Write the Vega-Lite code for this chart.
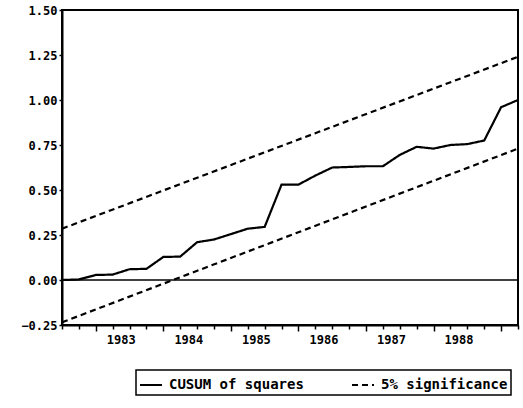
{
  "$schema": "https://vega.github.io/schema/vega-lite/v6.json",
  "autosize": {"type": "none"},
  "padding": {"left": 62, "top": 10, "right": 5, "bottom": 83},
  "width": 456,
  "height": 315,
  "background": "white",
  "config": {
    "view": {"stroke": "black", "strokeWidth": 2},
    "font": "DejaVu Sans Mono"
  },
  "layer": [
    {
      "data": {"values": [{"zero": 0}]},
      "mark": {"type": "rule", "color": "black", "strokeWidth": 1.5},
      "encoding": {
        "y": {"field": "zero", "type": "quantitative", "scale": {"domain": [-0.25, 1.5], "nice": false, "zero": false}}
      }
    },
    {
      "data": {"values": [
        {"t": 1982.5, "value": 0.0, "series": "CUSUM of squares", "line": "cusum"},
        {"t": 1982.75, "value": 0.003, "series": "CUSUM of squares", "line": "cusum"},
        {"t": 1983.0, "value": 0.028, "series": "CUSUM of squares", "line": "cusum"},
        {"t": 1983.25, "value": 0.03, "series": "CUSUM of squares", "line": "cusum"},
        {"t": 1983.5, "value": 0.06, "series": "CUSUM of squares", "line": "cusum"},
        {"t": 1983.75, "value": 0.062, "series": "CUSUM of squares", "line": "cusum"},
        {"t": 1984.0, "value": 0.128, "series": "CUSUM of squares", "line": "cusum"},
        {"t": 1984.25, "value": 0.13, "series": "CUSUM of squares", "line": "cusum"},
        {"t": 1984.5, "value": 0.21, "series": "CUSUM of squares", "line": "cusum"},
        {"t": 1984.75, "value": 0.225, "series": "CUSUM of squares", "line": "cusum"},
        {"t": 1985.0, "value": 0.255, "series": "CUSUM of squares", "line": "cusum"},
        {"t": 1985.25, "value": 0.285, "series": "CUSUM of squares", "line": "cusum"},
        {"t": 1985.5, "value": 0.295, "series": "CUSUM of squares", "line": "cusum"},
        {"t": 1985.75, "value": 0.53, "series": "CUSUM of squares", "line": "cusum"},
        {"t": 1986.0, "value": 0.53, "series": "CUSUM of squares", "line": "cusum"},
        {"t": 1986.25, "value": 0.58, "series": "CUSUM of squares", "line": "cusum"},
        {"t": 1986.5, "value": 0.625, "series": "CUSUM of squares", "line": "cusum"},
        {"t": 1986.75, "value": 0.628, "series": "CUSUM of squares", "line": "cusum"},
        {"t": 1987.0, "value": 0.632, "series": "CUSUM of squares", "line": "cusum"},
        {"t": 1987.25, "value": 0.632, "series": "CUSUM of squares", "line": "cusum"},
        {"t": 1987.5, "value": 0.695, "series": "CUSUM of squares", "line": "cusum"},
        {"t": 1987.75, "value": 0.74, "series": "CUSUM of squares", "line": "cusum"},
        {"t": 1988.0, "value": 0.73, "series": "CUSUM of squares", "line": "cusum"},
        {"t": 1988.25, "value": 0.75, "series": "CUSUM of squares", "line": "cusum"},
        {"t": 1988.5, "value": 0.755, "series": "CUSUM of squares", "line": "cusum"},
        {"t": 1988.75, "value": 0.775, "series": "CUSUM of squares", "line": "cusum"},
        {"t": 1989.0, "value": 0.96, "series": "CUSUM of squares", "line": "cusum"},
        {"t": 1989.25, "value": 1.0, "series": "CUSUM of squares", "line": "cusum"},
        {"t": 1982.5, "value": 0.285, "series": "5% significance", "line": "upper"},
        {"t": 1989.25, "value": 1.24, "series": "5% significance", "line": "upper"},
        {"t": 1982.5, "value": -0.235, "series": "5% significance", "line": "lower"},
        {"t": 1989.25, "value": 0.73, "series": "5% significance", "line": "lower"}
      ]},
      "mark": {"type": "line", "color": "black", "strokeWidth": 2.2},
      "encoding": {
        "x": {
          "field": "t", "type": "quantitative",
          "scale": {"domain": [1982.5, 1989.25], "nice": false, "zero": false},
          "axis": {
            "title": null,
            "grid": false,
            "values": [1982.5, 1982.75, 1983, 1983.25, 1983.5, 1983.75, 1984, 1984.25, 1984.5, 1984.75, 1985, 1985.25, 1985.5, 1985.75, 1986, 1986.25, 1986.5, 1986.75, 1987, 1987.25, 1987.5, 1987.75, 1988, 1988.25, 1988.5, 1988.75, 1989, 1989.25],
            "labelExpr": "datum.value % 1 == 0 && datum.value < 1989 ? format(datum.value, 'd') : ''",
            "labelOffset": 25,
            "labelFont": "DejaVu Sans Mono",
            "labelFontWeight": "bold",
            "labelFontSize": 12,
            "labelColor": "black",
            "labelPadding": 3,
            "labelOverlap": false,
            "domainColor": "black",
            "domainWidth": 2,
            "tickColor": "black",
            "tickWidth": 1.5,
            "tickSize": {"condition": {"test": "datum.value % 1 == 0", "value": 6}, "value": 4}
          }
        },
        "y": {
          "field": "value", "type": "quantitative",
          "scale": {"domain": [-0.25, 1.5], "nice": false, "zero": false},
          "axis": {
            "title": null,
            "grid": false,
            "values": [-0.25, 0, 0.25, 0.5, 0.75, 1.0, 1.25, 1.5],
            "format": ".2f",
            "labelFont": "DejaVu Sans Mono",
            "labelFontWeight": "bold",
            "labelFontSize": 12,
            "labelColor": "black",
            "labelPadding": 2,
            "domainColor": "black",
            "domainWidth": 2,
            "tickColor": "black",
            "tickWidth": 1.5,
            "tickSize": 3
          }
        },
        "detail": {"field": "line", "type": "nominal"},
        "strokeDash": {
          "field": "series", "type": "nominal",
          "scale": {"domain": ["CUSUM of squares", "5% significance"], "range": [[1, 0], [6, 4]]},
          "legend": {
            "title": null,
            "orient": "none",
            "legendX": 74,
            "legendY": 360,
            "direction": "horizontal",
            "strokeColor": "black",
            "padding": 3,
            "labelFont": "DejaVu Sans Mono",
            "labelFontWeight": "bold",
            "labelFontSize": 14,
            "labelColor": "black",
            "labelOffset": 6,
            "symbolType": "stroke",
            "symbolSize": 484,
            "symbolStrokeWidth": 2,
            "symbolStrokeColor": "black",
            "columnPadding": 44,
            "encode": {"legend": {"update": {"strokeWidth": {"value": 1.5}}}}
          }
        }
      }
    }
  ]
}
